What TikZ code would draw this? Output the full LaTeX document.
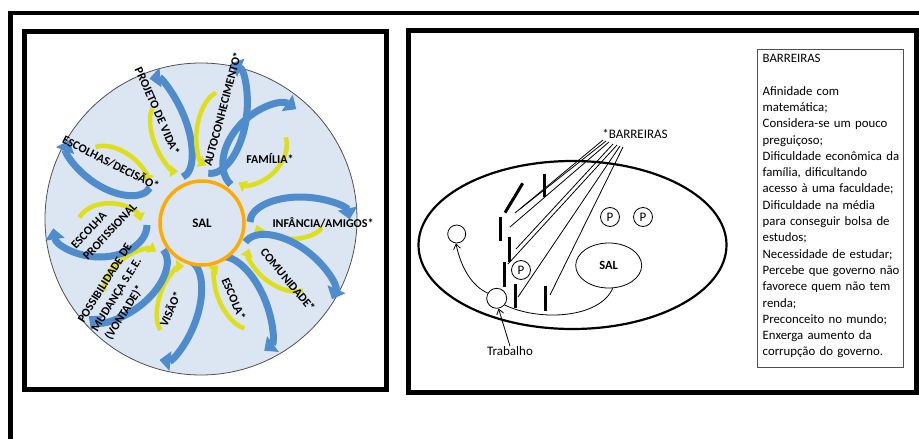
\documentclass[tikz,border=0pt]{standalone}
\usepackage{fontspec}
\setmainfont{Carlito}
\usetikzlibrary{arrows.meta,calc,shapes.geometric}
\definecolor{petalblue}{RGB}{79,140,205}
\definecolor{petaldark}{RGB}{62,112,170}
\definecolor{petalyellow}{RGB}{222,222,25}
\definecolor{discfill}{RGB}{220,230,242}
\definecolor{ringorange}{RGB}{255,170,0}
\definecolor{discline}{RGB}{80,80,80}
\newcommand{\petal}[6]{%
 \begin{scope}[shift={(#1,-#2)},rotate=#3]
  \pgfmathsetmacro{\pbe}{180-#6*174}
  \pgfmathsetmacro{\pys}{180-#6*200}
  \pgfmathsetmacro{\pye}{180-#6*350}
  \pgfmathsetmacro{\pya}{0.68*#4}
  \pgfmathsetmacro{\pyb}{0.68*#5}
  \pgfmathsetmacro{\pyc}{-0.2*#4}
  \draw[bluearc] (-#4,0) arc[start angle=180,end angle=\pbe,x radius=#4,y radius=#5];
  \draw[yellowarc] ({\pyc+\pya*cos(\pys)},{\pyb*sin(\pys)}) arc[start angle=\pys,end angle=\pye,x radius=\pya,y radius=\pyb];
 \end{scope}}
\begin{document}
\begin{tikzpicture}[x=1pt,y=1pt,
  bluearc/.style={draw=petalblue,line width=7,-{Triangle[length=11,width=19]}},
  yellowarc/.style={draw=petalyellow,line width=4.5,-{Triangle[length=8,width=12]}},
  plab/.style={font=\bfseries\fontsize{12}{16}\selectfont,inner sep=0},
  txt/.style={font=\fontsize{13}{16}\selectfont,inner sep=0},
  framebox/.style={line width=5},
  barbar/.style={line width=3},
  barline/.style={line width=0.8},
  thinarrow/.style={line width=0.8,-{Straight Barb[length=5,width=7]}},
  smallcirc/.style={circle,draw,line width=0.8,inner sep=0}]
\useasboundingbox (0,0) rectangle (919,-439);
% outer frame
\draw[line width=4.5] (10.5,-439) -- (10.5,-13) -- (919,-13);
\draw[framebox] (24.7,-31.8) rectangle (386.5,-389);
\draw[framebox] (408,-30.5) rectangle (916,-392);
% ---------- left panel ----------
\node[circle,draw=discline,fill=discfill,line width=0.8,minimum size=312,inner sep=0] (disc) at (201,-219) {};
\petal{165}{128}{110}{52}{22}{-1}
\petal{218}{118}{80}{56}{28}{-1}
\petal{265}{148}{47}{50}{34}{1}
\petal{300}{222}{0}{50}{25}{1}
\petal{288}{272}{-35}{52}{28}{1}
\petal{240}{305}{-65}{52}{25}{1}
\petal{173}{310}{-108}{52}{25}{1}
\petal{125}{282}{-140}{50}{28}{1}
\petal{100}{225}{180}{47}{32}{1}
\petal{110}{163}{148}{47}{25}{1}
\node[circle,draw=ringorange,fill=discfill,line width=3.5,minimum size=84,inner sep=0,font=\bfseries\fontsize{13}{15}\selectfont] (ring) at (202,-223) {SAL};
\node[plab,rotate=-66] (lproj) at (157.5,-111) {PROJETO DE VIDA*};
\node[plab,rotate=75] (lauto) at (222.5,-109) {AUTOCONHECIMENTO*};
\node[plab] (lfam) at (270,-158) {FAMÍLIA*};
\node[plab] (linf) at (323,-223) {INFÂNCIA/AMIGOS*};
\node[plab,rotate=-50] (lcom) at (288,-280) {COMUNIDADE*};
\node[plab,rotate=-67] (lesc) at (234,-299) {ESCOLA*};
\node[plab,rotate=66] (lvis) at (170,-309) {VISÃO*};
\node[plab,rotate=58,align=left] (lpos) at (119,-292) {POSSIBILIDADE DE\\MUDANÇA S.E.E.\\(VONTADE)*};
\node[plab,rotate=47,align=left] (lprof) at (104,-226) {ESCOLHA\\PROFISSIONAL};
\node[plab,rotate=-26.6] (ldec) at (111,-162.5) {ESCOLHAS/DECISÃO*};
% ---------- right panel ----------
\node[ellipse,draw,line width=2.2,minimum width=308,minimum height=168,inner sep=0] (field) at (572.5,-245) {};
\node[ellipse,draw,line width=0.8,minimum width=66,minimum height=45,inner sep=0,font=\bfseries\fontsize{12.5}{14}\selectfont] (sal) at (608.7,-265.5) {SAL};
\node[smallcirc,minimum size=19,txt] (p1) at (610,-217) {P};
\node[smallcirc,minimum size=19,txt] (p2) at (643,-217) {P};
\node[smallcirc,minimum size=19,txt] (p3) at (521,-270) {P};
\node[smallcirc,minimum size=18] (c1) at (456.7,-234) {};
\node[smallcirc,minimum size=20] (c2) at (496.7,-298.3) {};
\node[txt] (barlab) at (635,-134) {*BARREIRAS};
\node[txt] (trab) at (510,-351) {Trabalho};
% barrier bars
\coordinate (b1a) at (522.7,-183.3); \coordinate (b1b) at (505,-212.7);
\coordinate (b2a) at (544.3,-174); \coordinate (b2b) at (544.3,-197.3);
\coordinate (b3a) at (500,-217.3); \coordinate (b3b) at (500,-240.7);
\coordinate (b4a) at (509,-237.3); \coordinate (b4b) at (509,-261.7);
\coordinate (b5a) at (504.7,-262.3); \coordinate (b5b) at (504.7,-286.7);
\coordinate (b6a) at (515.7,-284); \coordinate (b6b) at (515.7,-308.3);
\coordinate (b7a) at (545.7,-285.7); \coordinate (b7b) at (545.7,-311);
\foreach \i in {1,...,7} {\draw[barbar] (b\i a) -- (b\i b);}
% lines from label
\coordinate (s1) at (603,-140); \coordinate (s2) at (606,-141);
\coordinate (s3) at (609,-142); \coordinate (s4) at (613,-144);
\coordinate (s5) at (617,-145); \coordinate (s6) at (620,-146);
\coordinate (s7) at (623,-147);
\coordinate (e1) at (515,-213); \coordinate (e2) at (520,-209);
\coordinate (e3) at (510,-227); \coordinate (e4) at (516,-249);
\coordinate (e5) at (508,-264); \coordinate (e6) at (518,-297);
\coordinate (e7) at (550,-295);
\foreach \i in {1,...,7} {\draw[barline] (s\i) -- (e\i);}
% arrows
\draw[thinarrow] (c2.150) .. controls (472,-286) and (461,-268) .. (c1.-95);
\draw[line width=0.8] (sal.-80) .. controls (600,-318) and (540,-322) .. (c2.-40);
\draw[thinarrow] (trab.north) -- (c2.-80);
% barreiras box
\draw[line width=0.8,draw=discline] (757,-49) rectangle (903,-367);
\node[txt,font=\fontsize{12.8}{16.3}\selectfont,anchor=north west,align=left,text width=140] (blist) at (762.5,-54) {BARREIRAS\\\mbox{}\\Afinidade com\\matemática;\\Considera-se um pouco\\preguiçoso;\\Dificuldade econômica da\\família, dificultando\\acesso à uma faculdade;\\Dificuldade na média\\para conseguir bolsa de\\estudos;\\Necessidade de estudar;\\Percebe que governo não\\favorece quem não tem\\renda;\\Preconceito no mundo;\\Enxerga aumento da\\corrupção do governo.};
\end{tikzpicture}
\end{document}
